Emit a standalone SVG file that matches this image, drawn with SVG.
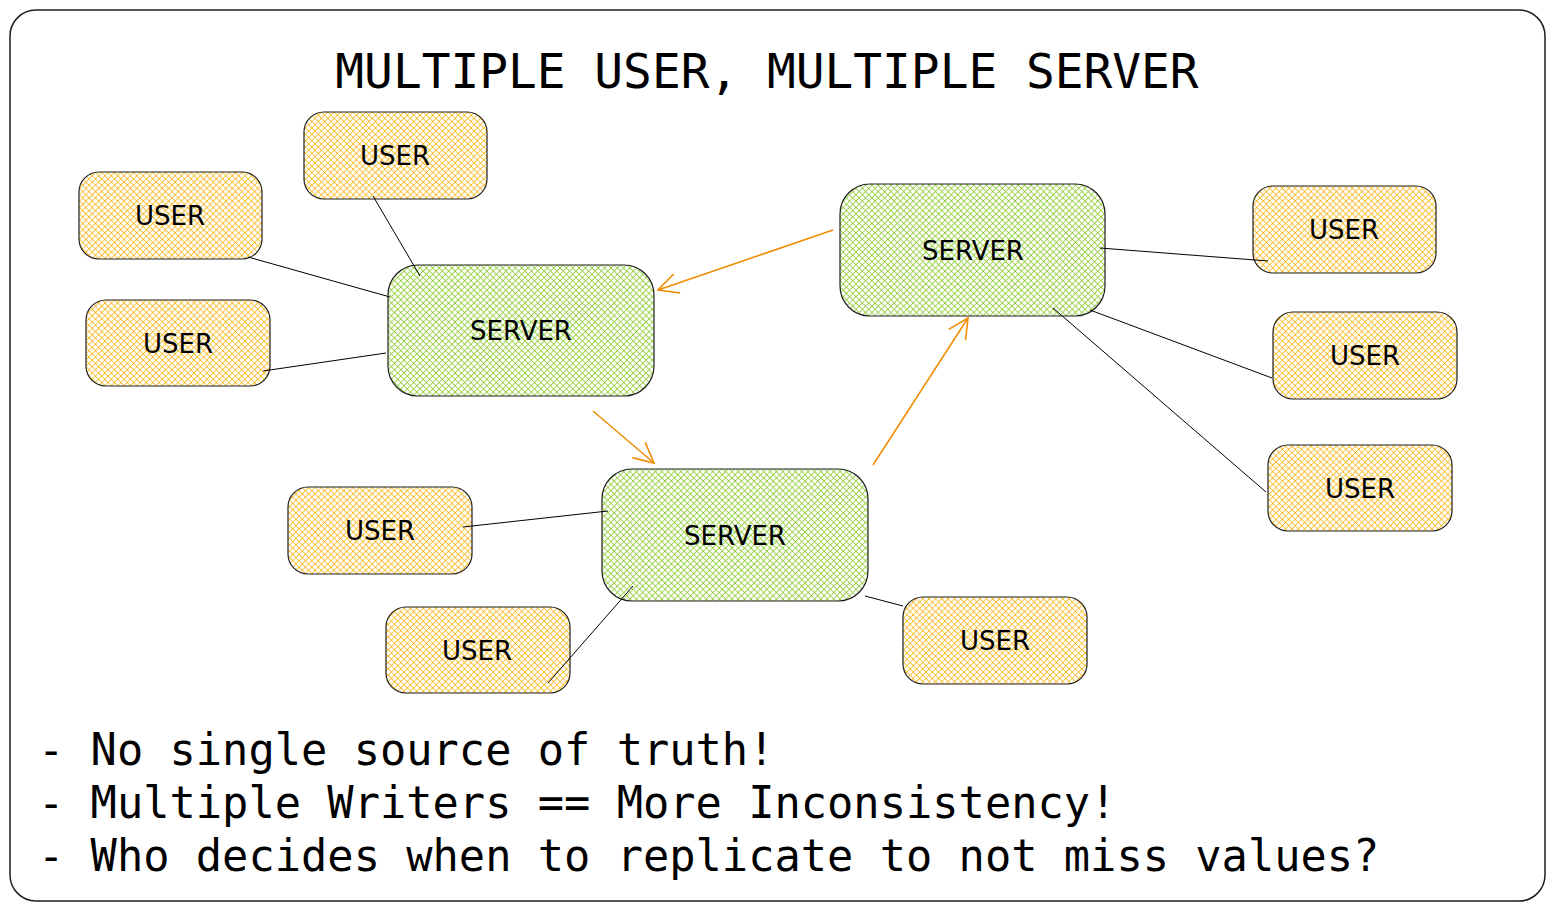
<svg xmlns="http://www.w3.org/2000/svg" width="1555" height="911" viewBox="0 0 1555 911">
<defs>
<pattern id="hy" width="4.5" height="4.5" patternUnits="userSpaceOnUse" patternTransform="rotate(45)">
<rect width="4.5" height="4.5" fill="#fff"/>
<line x1="0" y1="0" x2="0" y2="4.5" stroke="#fab005" stroke-width="1.6" opacity="0.9"/>
<line x1="0" y1="0" x2="4.5" y2="0" stroke="#fab005" stroke-width="1.6" opacity="0.9"/>
</pattern>
<pattern id="hg" width="4.5" height="4.5" patternUnits="userSpaceOnUse" patternTransform="rotate(45)">
<rect width="4.5" height="4.5" fill="#fff"/>
<line x1="0" y1="0" x2="0" y2="4.5" stroke="#82c91e" stroke-width="1.6" opacity="0.9"/>
<line x1="0" y1="0" x2="4.5" y2="0" stroke="#82c91e" stroke-width="1.6" opacity="0.9"/>
</pattern>
<marker id="ah" viewBox="0 0 24 24" refX="22" refY="12" markerWidth="24" markerHeight="24" markerUnits="userSpaceOnUse" orient="auto">
<path d="M2,2 L22,12 L2,22" fill="none" stroke="#f08c00" stroke-width="1.6"/>
</marker>
</defs>
<style>
.user rect{fill:url(#hy);stroke:#1e1e1e;stroke-width:1.2}
.server rect{fill:url(#hg);stroke:#1e1e1e;stroke-width:1.2}
.lbl{font-family:"DejaVu Sans",sans-serif;font-size:26px;fill:#000;text-anchor:middle;dominant-baseline:central}
.mono{font-family:"DejaVu Sans Mono","Liberation Mono",monospace;fill:#000}
.conn line{stroke:#000;stroke-width:1}
.arr line{stroke:#f08c00;stroke-width:1.5;marker-end:url(#ah)}
</style>
<rect x="10" y="10" width="1535" height="891" rx="26" fill="#fff" stroke="#1e1e1e" stroke-width="1.5"/>
<text class="mono" x="767" y="88" font-size="47.8" text-anchor="middle">MULTIPLE USER, MULTIPLE SERVER</text>

<g id="server-a" class="server"><rect x="388" y="265" width="266" height="131" rx="30"/><text class="lbl" x="521" y="331">SERVER</text></g>
<g id="server-b" class="server"><rect x="840" y="184" width="265" height="132" rx="30"/><text class="lbl" x="973" y="251">SERVER</text></g>
<g id="server-c" class="server"><rect x="602" y="469" width="266" height="132" rx="30"/><text class="lbl" x="735" y="536">SERVER</text></g>

<g id="user-1" class="user"><rect x="304" y="112" width="183" height="87" rx="20"/><text class="lbl" x="395" y="156">USER</text></g>
<g id="user-2" class="user"><rect x="79" y="172" width="183" height="87" rx="20"/><text class="lbl" x="170" y="216">USER</text></g>
<g id="user-3" class="user"><rect x="86" y="300" width="184" height="86" rx="20"/><text class="lbl" x="178" y="344">USER</text></g>
<g id="user-4" class="user"><rect x="1253" y="186" width="183" height="87" rx="20"/><text class="lbl" x="1344" y="230">USER</text></g>
<g id="user-5" class="user"><rect x="1273" y="312" width="184" height="87" rx="20"/><text class="lbl" x="1365" y="356">USER</text></g>
<g id="user-6" class="user"><rect x="1268" y="445" width="184" height="86" rx="20"/><text class="lbl" x="1360" y="489">USER</text></g>
<g id="user-7" class="user"><rect x="288" y="487" width="184" height="87" rx="20"/><text class="lbl" x="380" y="531">USER</text></g>
<g id="user-8" class="user"><rect x="386" y="607" width="184" height="86" rx="20"/><text class="lbl" x="477" y="651">USER</text></g>
<g id="user-9" class="user"><rect x="903" y="597" width="184" height="87" rx="20"/><text class="lbl" x="995" y="641">USER</text></g>

<g class="conn">
<line x1="373" y1="196" x2="420" y2="276"/>
<line x1="248" y1="257" x2="390" y2="297"/>
<line x1="263" y1="371" x2="386" y2="353"/>
<line x1="1100" y1="248" x2="1268" y2="261"/>
<line x1="1090" y1="310" x2="1272" y2="378"/>
<line x1="1053" y1="308" x2="1266" y2="492"/>
<line x1="463" y1="527" x2="608" y2="511"/>
<line x1="548" y1="683" x2="633" y2="586"/>
<line x1="865" y1="596" x2="903" y2="606"/>
</g>

<g class="arr">
<line x1="833" y1="230" x2="658" y2="290"/>
<line x1="593" y1="411" x2="654" y2="463"/>
<line x1="873" y1="465" x2="968" y2="318"/>
</g>

<text class="mono" font-size="43.7" x="38" y="765">- No single source of truth!</text>
<text class="mono" font-size="43.7" x="38" y="818">- Multiple Writers == More Inconsistency!</text>
<text class="mono" font-size="43.7" x="38" y="871">- Who decides when to replicate to not miss values?</text>
</svg>
